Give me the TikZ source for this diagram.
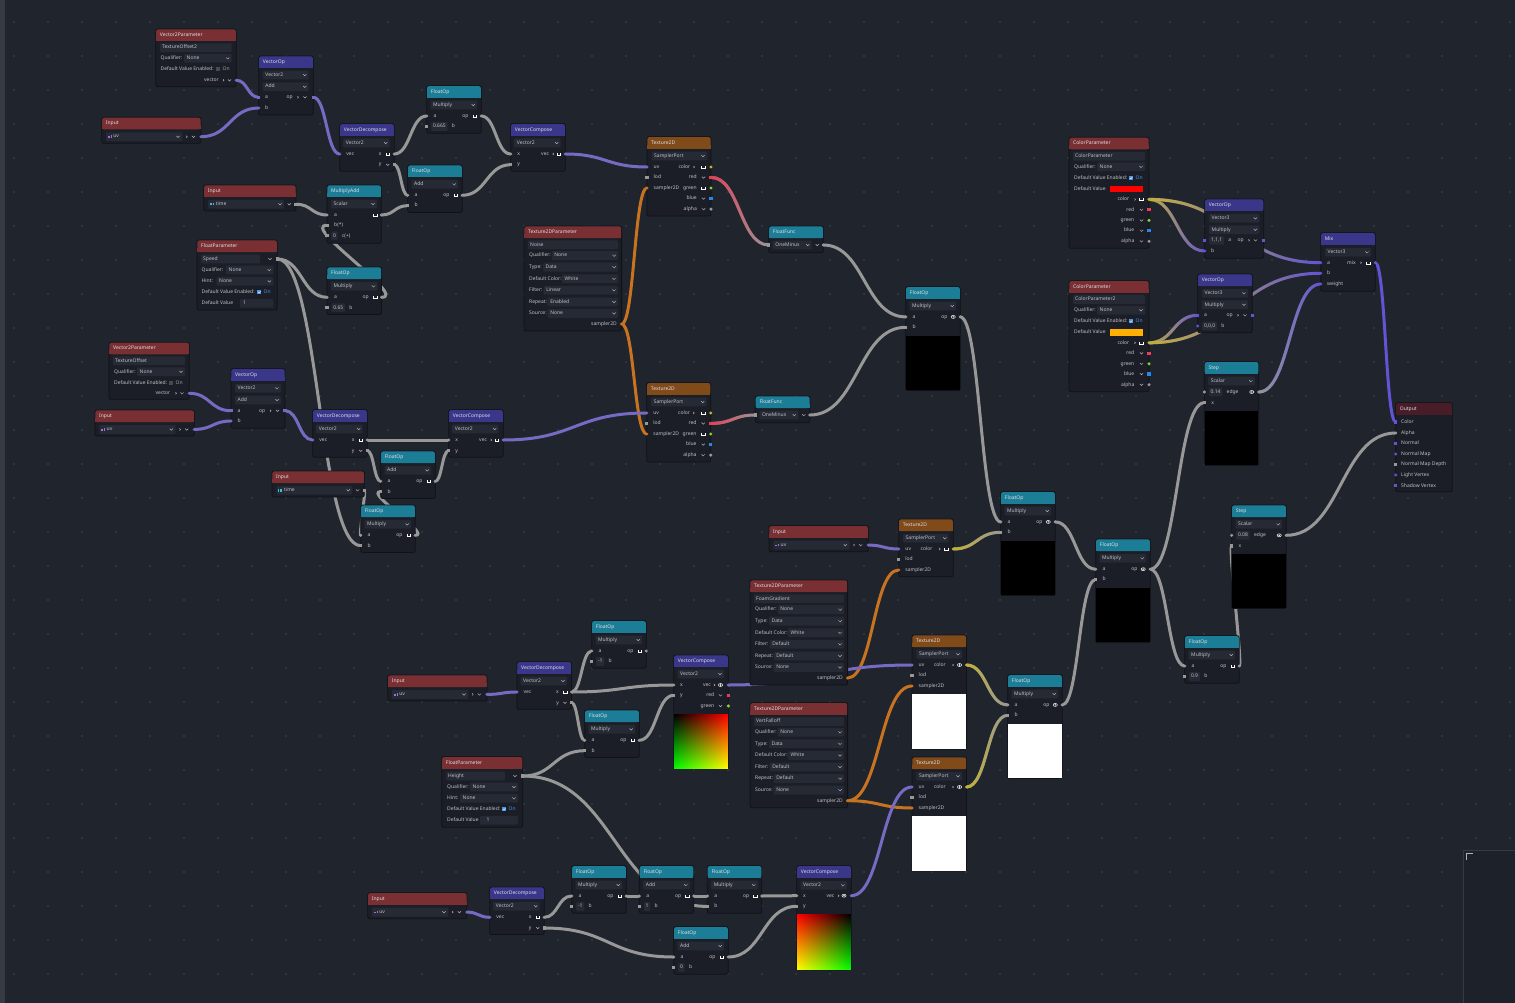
\documentclass[tikz,border=0pt]{standalone}
\usepackage{fontspec}
\setmainfont{Noto Sans}
\usetikzlibrary{calc,fadings}
\definecolor{bgc}{RGB}{32,36,45}
\definecolor{edgec}{RGB}{54,58,68}
\definecolor{dotc}{RGB}{47,52,63}
\definecolor{minic}{RGB}{29,33,41}
\definecolor{bodyc}{RGB}{27,30,38}
\definecolor{bordc}{RGB}{16,18,23}
\definecolor{fieldc}{RGB}{38,42,52}
\definecolor{hred}{RGB}{122,47,50}
\definecolor{hteal}{RGB}{28,126,150}
\definecolor{hpur}{RGB}{58,55,138}
\definecolor{hbrown}{RGB}{128,74,25}
\definecolor{hout}{RGB}{72,29,40}
\definecolor{htxt}{RGB}{222,222,230}
\definecolor{txtc}{RGB}{192,194,200}
\definecolor{iconc}{RGB}{175,178,186}
\definecolor{onc}{RGB}{78,148,228}
\definecolor{offbox}{RGB}{70,74,84}
\definecolor{offtxt}{RGB}{160,162,170}
\definecolor{icpur}{RGB}{160,110,225}
\definecolor{iccyan}{RGB}{60,190,220}
\definecolor{wgray}{RGB}{152,152,152}
\definecolor{wvec2}{RGB}{118,106,194}
\definecolor{wvec3}{RGB}{98,84,212}
\definecolor{worange}{RGB}{200,115,32}
\definecolor{wyellow}{RGB}{196,178,52}
\definecolor{wred}{RGB}{232,62,88}
\definecolor{wgreen}{RGB}{140,210,40}
\definecolor{wblue}{RGB}{40,135,235}
\definecolor{swred}{RGB}{255,0,0}
\definecolor{sworange}{RGB}{255,176,0}
\definecolor{pvred}{RGB}{255,0,0}
\definecolor{pvgreen}{RGB}{0,255,0}
\definecolor{pvyellow}{RGB}{255,255,0}
\pgfdeclarelayer{bglayer}
\pgfdeclarelayer{wirelayer}
\pgfsetlayers{bglayer,wirelayer,main}
\tikzfading[name=fadeR, left color=transparent!0, right color=transparent!100]
\tikzfading[name=fadeDown, top color=transparent!100, bottom color=transparent!0]
\newcounter{tn}
\tikzset{
  gbody/.style={draw=bordc, fill=bodyc, line width=0.8pt, rounded corners=2pt, inner sep=0pt, outer sep=0pt},
  ttxt/.style={text=htxt, inner sep=0pt, font=\fontsize{5}{6}\selectfont, text height=3.6pt, text depth=1pt},
  btxt/.style={text=txtc, inner sep=0pt, font=\fontsize{5}{6}\selectfont, text height=3.6pt, text depth=1pt},
  valst/.style={btxt, fill=fieldc, inner xsep=1.8pt, minimum height=8.8pt, rounded corners=1pt},
  wirest/.style={line width=3pt, line cap=round},
  chvst/.style={draw=iconc, line width=0.5pt},
  cupst/.style={draw=white, line width=0.6pt},
}
% text helpers
\newcommand\tL[4][btxt]{\stepcounter{tn}\node[#1,anchor=west] (t\arabic{tn}) at (#2,#3) {#4};}
\newcommand\tR[3]{\stepcounter{tn}\node[btxt,anchor=east] (t\arabic{tn}) at (#1,#2) {#3};}
\newcommand\valb[4]{\stepcounter{tn}\node[valst,anchor=west] (t\arabic{tn}) at (#1,#2) {#3};\node[btxt,anchor=west] (t\arabic{tn}l) at ($(t\arabic{tn}.east)+(4,0)$) {#4};}
% icons
\newcommand\chv[2]{\draw[chvst] (#1-1.6,#2-0.8) -- (#1,#2+0.8) -- (#1+1.6,#2-0.8);}
\newcommand\gtic[2]{\draw[chvst] (#1-0.5,#2-1) -- (#1+0.5,#2) -- (#1-0.5,#2+1);}
\newcommand\cupic[2]{\draw[cupst] (#1-1.8,#2-1.2) -- (#1-1.8,#2+1.1) -- (#1+1.8,#2+1.1) -- (#1+1.8,#2-1.2);}
\newcommand\eyeic[2]{\draw[white,line width=0.5pt] (#1,#2) ellipse (2.1pt and 1.5pt);\fill[white] (#1,#2) circle (0.8pt);}
\newcommand\cbxon[2]{\fill[onc] (#1-2,#2-2) rectangle (#1+2,#2+2);\draw[white,line width=0.4pt] (#1-1.2,#2) -- (#1-0.3,#2+0.9) -- (#1+1.3,#2-1);}
\newcommand\cbxoff[2]{\fill[offbox] (#1-2,#2-2) rectangle (#1+2,#2+2);}
\newcommand\vic[2]{\fill[icpur] (#1-1.6,#2-0.2) rectangle (#1+0.4,#2+1.3);\fill[icpur] (#1+0.9,#2-1.3) rectangle (#1+1.6,#2+1.3);}
\newcommand\sic[2]{\fill[iccyan] (#1-1.6,#2-1.3) rectangle (#1-1,#2+1.3);\fill[iccyan] (#1-0.3,#2-1.3) rectangle (#1+0.3,#2+1.3);\fill[iccyan] (#1+1,#2-1.3) rectangle (#1+1.6,#2+1.3);}
\newcommand\fb[3]{\fill[fieldc, rounded corners=1pt] (#1,#2-4.4) rectangle (#3,#2+4.4);}
\newcommand\dd[4]{\fb{#1}{#2}{#3}\tL{#1+2.5}{#2}{#4}\chv{#3-4}{#2}}
% ports
\newcommand\pc[4]{\coordinate (#1) at (#2,#3);\fill[#4] (#1) circle (1.7pt);}
\newcommand\ps[4]{\coordinate (#1) at (#2,#3);\fill[#4] (#2-1.6,#3-1.6) rectangle (#2+1.6,#3+1.6);}
% graph node frame
\newcommand\gn[7]{%
  \node[gbody, minimum width=#4pt, minimum height=#5pt, anchor=north west] (#1) at (#2,#3) {};
  \fill[#6, rounded corners=2pt] (#2+0.4,#3+0.4) rectangle (#2+#4-0.4,#3+12);
  \fill[#6] (#2+0.4,#3+8) rectangle (#2+#4-0.4,#3+12);
  \tL[ttxt]{#2+4}{#3+6.3}{#7}}
% wires
\newcommand\wpth[2]{let \p1=(#1), \p2=(#2), \n1={0.5*abs(\x2-\x1)} in (\p1) .. controls (\x1+\n1,\y1) and (\x2-\n1,\y2) .. (\p2)}
\newcommand\wir[3][wgray]{\begin{pgfonlayer}{wirelayer}\draw[wirest,#1] \wpth{#2}{#3};\end{pgfonlayer}}
\newcommand\gwir[4]{\begin{pgfonlayer}{wirelayer}\draw[wirest,#4] \wpth{#1}{#2};\draw[wirest,#3,path fading=fadeR] \wpth{#1}{#2};\end{pgfonlayer}}
% bilinear preview: x1 y1 x2 y2 TL TR BL BR
\newcommand\bilin[8]{\shade[left color=#5, right color=#6] (#1,#2) rectangle (#3,#4);\shade[left color=#7, right color=#8, path fading=fadeDown] (#1,#2) rectangle (#3,#4);}
% node kinds
\newcommand\inuv[3]{%
  \gn{#1}{#2}{#3}{99.3}{26}{hred}{Input}
  \fb{#2+4.3}{#3+19.4}{#2+80.6}\vic{#2+8}{#3+19.4}\tL{#2+11.5}{#3+19.4}{uv}\chv{#2+76.3}{#3+19.4}
  \gtic{#2+85}{#3+19.4}\chv{#2+91.7}{#3+19.4}
  \pc{#1-o}{#2+99.3}{#3+19.4}{wvec2}}
\newcommand\intime[3]{%
  \gn{#1}{#2}{#3}{92.3}{26}{hred}{Input}
  \fb{#2+4.5}{#3+19.2}{#2+80.3}\sic{#2+8}{#3+19.2}\tL{#2+12}{#3+19.2}{time}\chv{#2+76.3}{#3+19.2}
  \chv{#2+85.6}{#3+19.2}
  \ps{#1-o}{#2+92.3}{#3+19.2}{wgray}}
\newcommand\vdec[3]{%
  \gn{#1}{#2}{#3}{54.5}{47.5}{hpur}{VectorDecompose}
  \dd{#2+3.5}{#3+19.2}{#2+50}{Vector2}
  \tL{#2+6.5}{#3+30.3}{vec}\tR{#2+42}{#3+30.3}{x}\cupic{#2+48}{#3+30.3}
  \tR{#2+42}{#3+41}{y}\chv{#2+48}{#3+41}
  \pc{#1-v}{#2}{#3+30.3}{wvec2}\pc{#1-x}{#2+54.5}{#3+30.3}{wgray}\ps{#1-y}{#2+54.5}{#3+41}{wgray}}
\newcommand\vcomp[3]{%
  \gn{#1}{#2}{#3}{54.5}{47.5}{hpur}{VectorCompose}
  \dd{#2+3.5}{#3+19.2}{#2+50}{Vector2}
  \tL{#2+6.5}{#3+30.3}{x}\tR{#2+38.5}{#3+30.3}{vec}\gtic{#2+42.5}{#3+30.3}\cupic{#2+48}{#3+30.3}
  \tL{#2+6.5}{#3+41}{y}
  \pc{#1-x}{#2}{#3+30.3}{wgray}\ps{#1-y}{#2}{#3+41}{wgray}\pc{#1-o}{#2+54.5}{#3+30.3}{wvec2}}
\newcommand\fop[5]{%
  \gn{#1}{#2}{#3}{54.5}{47.5}{hteal}{FloatOp}
  \dd{#2+3.8}{#3+19.3}{#2+50.5}{#4}
  \tL{#2+6.8}{#3+30.3}{a}\tR{#2+42}{#3+30.3}{op}\cupic{#2+48}{#3+30.3}
  \if\relax\detokenize{#5}\relax\tL{#2+6.8}{#3+40.7}{b}\else\valb{#2+4.3}{#3+40.7}{#5}{b}\fi
  \pc{#1-a}{#2}{#3+30.3}{wgray}\ps{#1-b}{#2}{#3+40.7}{wgray}\pc{#1-o}{#2+54.5}{#3+30.3}{wgray}}
\newcommand\fopp[4]{%
  \gn{#1}{#2}{#3}{54.5}{103.8}{hteal}{FloatOp}
  \dd{#2+3.8}{#3+19.3}{#2+50.5}{Multiply}
  \tL{#2+6.8}{#3+30.2}{a}\tR{#2+42}{#3+30.2}{op}\eyeic{#2+47.5}{#3+30.2}
  \tL{#2+6.8}{#3+40.6}{b}
  \fill[#4] (#2+0.4,#3+49.2) rectangle (#2+54.1,#3+103.4);
  \pc{#1-a}{#2}{#3+30.2}{wgray}\ps{#1-b}{#2}{#3+40.6}{wgray}\pc{#1-o}{#2+54.5}{#3+30.2}{wgray}}
\newcommand\stepn[4]{%
  \gn{#1}{#2}{#3}{54.5}{103.5}{hteal}{Step}
  \dd{#2+3.8}{#3+19.3}{#2+50.5}{Scalar}
  \valb{#2+4.3}{#3+30.3}{#4}{edge}\eyeic{#2+47.5}{#3+30.3}
  \tL{#2+6.8}{#3+41}{x}
  \fill[black] (#2+0.4,#3+49.3) rectangle (#2+54.1,#3+103.1);
  \pc{#1-e}{#2}{#3+30.3}{wgray}\ps{#1-x}{#2}{#3+41}{wgray}\pc{#1-o}{#2+54.5}{#3+30.3}{wgray}}
\newcommand\texf[3]{%
  \gn{#1}{#2}{#3}{64}{79.3}{hbrown}{Texture2D}
  \dd{#2+4.5}{#3+19.3}{#2+60}{SamplerPort}
  \tL{#2+6.5}{#3+30.3}{uv}\tR{#2+43.5}{#3+30.3}{color}\gtic{#2+47}{#3+30.3}\cupic{#2+56.5}{#3+30.3}
  \tL{#2+6.5}{#3+40.7}{lod}\tR{#2+50}{#3+40.7}{red}\chv{#2+56.5}{#3+40.7}
  \tL{#2+6.5}{#3+51.3}{sampler2D}\tR{#2+50}{#3+51.3}{green}\cupic{#2+56.5}{#3+51.3}
  \tR{#2+50}{#3+61.8}{blue}\chv{#2+56.5}{#3+61.8}
  \tR{#2+50}{#3+72.4}{alpha}\chv{#2+56.5}{#3+72.4}
  \pc{#1-uv}{#2}{#3+30.3}{wvec2}\ps{#1-lod}{#2}{#3+40.7}{wgray}\pc{#1-s}{#2}{#3+51.3}{worange}
  \pc{#1-c}{#2+64}{#3+30.3}{wyellow}\ps{#1-r}{#2+64}{#3+40.7}{wred}\pc{#1-g}{#2+64}{#3+51.3}{wgreen}\ps{#1-b}{#2+64}{#3+61.8}{wblue}\pc{#1-a}{#2+64}{#3+72.4}{wgray}}
\newcommand\texs[4]{%
  \gn{#1}{#2}{#3}{54.5}{#4}{hbrown}{Texture2D}
  \dd{#2+4.3}{#3+19.2}{#2+50}{SamplerPort}
  \tL{#2+6.5}{#3+30}{uv}\tR{#2+34}{#3+30}{color}\gtic{#2+41}{#3+30}
  \tL{#2+6.5}{#3+40.3}{lod}
  \tL{#2+6.5}{#3+51}{sampler2D}
  \pc{#1-uv}{#2}{#3+30}{wvec2}\ps{#1-lod}{#2}{#3+40.3}{wgray}\pc{#1-s}{#2}{#3+51}{worange}
  \pc{#1-c}{#2+54.5}{#3+30}{wyellow}
  \ifdim#4pt>60pt \fill[white] (#2+0.4,#3+59.3) rectangle (#2+54.1,#3+#4-0.4);\eyeic{#2+47.5}{#3+30}\else\cupic{#2+47.5}{#3+30}\fi}
\newcommand\texp[6]{%
  \gn{#1}{#2}{#3}{97.6}{105}{hred}{Texture2DParameter}
  \fb{#2+4}{#3+18.8}{#2+94}\tL{#2+6}{#3+18.8}{#4}
  \tL{#2+5}{#3+29.6}{Qualifier:}\dd{#2+27.7}{#3+29.6}{#2+94}{None}
  \tL{#2+5}{#3+41.1}{Type:}\dd{#2+19}{#3+41.1}{#2+94}{Data}
  \tL{#2+5}{#3+52.8}{Default Color:}\dd{#2+38}{#3+52.8}{#2+94}{White}
  \tL{#2+5}{#3+64.3}{Filter:}\dd{#2+19.6}{#3+64.3}{#2+94}{#5}
  \tL{#2+5}{#3+75.9}{Repeat:}\dd{#2+23.6}{#3+75.9}{#2+94}{#6}
  \tL{#2+5}{#3+87.4}{Source:}\dd{#2+23.6}{#3+87.4}{#2+94}{None}
  \tR{#2+93}{#3+98}{sampler2D}
  \pc{#1-o}{#2+97.6}{#3+98}{worange}}
\newcommand\colp[5]{%
  \gn{#1}{#2}{#3}{80}{111}{hred}{ColorParameter}
  \fb{#2+4}{#3+18.9}{#2+76}\tL{#2+6}{#3+18.9}{#4}
  \tL{#2+5}{#3+29.5}{Qualifier:}\dd{#2+28}{#3+29.5}{#2+76}{None}
  \tL{#2+5}{#3+40.7}{Default Value Enabled:}\cbxon{#2+62}{#3+40.7}\tL[btxt,text=onc]{#2+66.5}{#3+40.7}{On}
  \tL{#2+5}{#3+51.7}{Default Value}\fill[#5] (#2+41,#3+48.6) rectangle (#2+73.7,#3+54.8);
  \tR{#2+60.5}{#3+62.1}{color}\gtic{#2+66}{#3+62.1}\cupic{#2+72.5}{#3+62.1}
  \tR{#2+65.5}{#3+72.5}{red}\chv{#2+72.5}{#3+72.5}
  \tR{#2+65.5}{#3+83.1}{green}\chv{#2+72.5}{#3+83.1}
  \tR{#2+65.5}{#3+93.3}{blue}\chv{#2+72.5}{#3+93.3}
  \tR{#2+65.5}{#3+104}{alpha}\chv{#2+72.5}{#3+104}
  \pc{#1-c}{#2+80}{#3+62.1}{wyellow}\ps{#1-r}{#2+80}{#3+72.5}{wred}\pc{#1-g}{#2+80}{#3+83.1}{wgreen}\ps{#1-b}{#2+80}{#3+93.3}{wblue}\pc{#1-a}{#2+80}{#3+104}{wgray}}
\newcommand\ffn[3]{%
  \gn{#1}{#2}{#3}{54.6}{26.7}{hteal}{FloatFunc}
  \dd{#2+4}{#3+19}{#2+43}{OneMinus}\chv{#2+48.5}{#3+19}
  \ps{#1-i}{#2}{#3+19}{wgray}\pc{#1-o}{#2+54.6}{#3+19}{wgray}}

\begin{document}
\begin{tikzpicture}[x=1pt,y=-1pt]
\useasboundingbox (0,0) rectangle (1515,1003);
\begin{pgfonlayer}{bglayer}
\fill[bgc] (0,0) rectangle (1515,1003);
\fill[edgec] (0,0) rectangle (5,1003);
\foreach \i in {0,...,44}{\foreach \j in {0,...,29}{\fill[dotc] (12.7+34*\i,21+34*\j) rectangle ++(2,2);}}
\fill[minic] (1463,850) rectangle (1515,1003);
\draw[edgec,line width=0.6pt] (1463,1003) -- (1463,850) -- (1515,850);
\draw[iconc,line width=1pt] (1466,860) -- (1466,853) -- (1473,853);
\end{pgfonlayer}

% ---------- top-left cluster ----------
\gn{vtpA}{155.7}{29}{80.6}{57.7}{hred}{Vector2Parameter}
\fb{160}{47.7}{231.7}\tL{162}{47.7}{TextureOffset2}
\tL{160.5}{58.3}{Qualifier:}\dd{184}{58.3}{231.7}{None}
\tL{160.5}{69.3}{Default Value Enabled:}\cbxoff{218.3}{69.3}\tL[btxt,text=offtxt]{222.5}{69.3}{On}
\tR{219}{80.3}{vector}\gtic{223.5}{80.3}\chv{229.5}{80.3}
\pc{vtpA-o}{236.3}{80.3}{wvec2}

\inuv{inA}{101.7}{117.3}

\gn{vopA}{258.7}{56}{54.6}{59}{hpur}{VectorOp}
\dd{262.7}{75}{308.7}{Vector2}
\dd{262.7}{86.7}{308.7}{Add}
\tL{265}{97.3}{a}\tR{293}{97.3}{op}\gtic{298}{97.3}\chv{305}{97.3}
\tL{265}{108}{b}
\ps{vopA-a}{258.7}{97.3}{wvec2}\pc{vopA-b}{258.7}{108}{wvec2}\ps{vopA-o}{313.3}{97.3}{wvec2}

\vdec{vdecA}{339.7}{123.7}
\vcomp{vcompA}{510.7}{123.7}
\fop{fopA}{426.7}{85.7}{Multiply}{0.665}
\fop{faddA}{407.7}{165}{Add}{}
\intime{timeA}{203.7}{185}

\gn{maddA}{327}{185}{54.3}{58.3}{hteal}{MultiplyAdd}
\dd{331}{204}{377}{Scalar}
\tL{334}{215}{a}\cupic{375}{215}
\tL{334}{225.3}{b(*)}
\valb{331}{235.7}{0}{c(+)}
\pc{maddA-a}{327}{215}{wgray}\ps{maddA-b}{327}{225.3}{wgray}\ps{maddA-c}{327}{235.7}{wgray}\pc{maddA-o}{381.3}{215}{wgray}

\gn{speedP}{197}{240}{80.3}{70}{hred}{FloatParameter}
\fb{201}{259}{260}\tL{203}{259}{Speed}\chv{270}{259}
\tL{201.5}{270}{Qualifier:}\dd{226}{270}{273.3}{None}
\tL{201.5}{281.3}{Hint:}\dd{216.5}{281.3}{273.3}{None}
\tL{201.5}{292.3}{Default Value Enabled:}\cbxon{259.3}{292.3}\tL[btxt,text=onc]{263.5}{292.3}{On}
\tL{201.5}{303.3}{Default Value}\fb{240}{303.3}{273.3}\tL{243}{303.3}{1}
\ps{speedP-o}{277.3}{259}{wgray}

\fop{fmulB}{327}{267}{Multiply}{0.65}

% ---------- textures ----------
\texf{texA}{647}{136.7}
\texf{texB}{646.7}{382.7}
\texp{noiseP}{524}{226}{Noise}{Linear}{Enabled}
\ffn{ffA}{768.7}{226}
\ffn{ffB}{755.3}{396}
\fopp{fopC}{905.7}{286.7}{black}
\fopp{fopD}{1000.7}{491.7}{black}
\fopp{fopW}{1007.7}{674.7}{white}
\fopp{fopE}{1095.7}{539}{black}
\inuv{inE}{769}{525.7}
\texs{texC}{898.7}{519}{57.7}
\texp{foamP}{750}{580}{FoamGradient}{Default}{Default}
\texp{vertP}{750}{702.7}{VertFalloff}{Default}{Default}
\texs{texD}{912}{635}{114.3}
\texs{texE}{912}{757}{114}

% ---------- right side ----------
\stepn{stepA}{1204.3}{361.7}{0.14}
\stepn{stepB}{1231.7}{505}{0.08}
\fop{fopN}{1184.7}{635.7}{Multiply}{0.9}
\colp{cpA}{1069}{137.3}{ColorParameter}{swred}
\colp{cpB}{1069}{280.7}{ColorParameter2}{sworange}

\gn{vopB}{1204.7}{199}{59}{59.3}{hpur}{VectorOp}
\dd{1209}{218.3}{1259.3}{Vector3}
\dd{1209}{229.7}{1259.3}{Multiply}
\valb{1209}{240.3}{1,1,1}{a}\tR{1244}{240.3}{op}\gtic{1249}{240.3}\chv{1255.5}{240.3}
\tL{1211}{251}{b}
\ps{vopB-a}{1204.7}{240.3}{wvec3}\pc{vopB-b}{1204.7}{251}{wvec3}\ps{vopB-o}{1263.7}{240.3}{wvec3}

\gn{vopC}{1197.7}{274}{54.6}{58.7}{hpur}{VectorOp}
\dd{1202}{293.3}{1248}{Vector3}
\dd{1202}{304.7}{1248}{Multiply}
\tL{1204}{315.3}{a}\tR{1233}{315.3}{op}\gtic{1238}{315.3}\chv{1245}{315.3}
\valb{1202}{326}{0,0,0}{b}
\ps{vopC-a}{1197.7}{315.3}{wvec3}\pc{vopC-b}{1197.7}{326}{wvec3}\ps{vopC-o}{1252.3}{315.3}{wvec3}

\gn{mixA}{1320.7}{232.7}{54.6}{58.6}{hpur}{Mix}
\dd{1325}{252.3}{1371}{Vector3}
\tL{1327}{262.7}{a}\tR{1356}{262.7}{mix}\gtic{1361}{262.7}\cupic{1368}{262.7}
\tL{1327}{273.3}{b}
\tL{1327}{284}{weight}
\pc{mixA-a}{1320.7}{262.7}{wvec3}\pc{mixA-b}{1320.7}{273.3}{wvec3}\pc{mixA-w}{1320.7}{284}{wvec3}\pc{mixA-o}{1375.3}{262.7}{wvec3}

\gn{outA}{1395.7}{402.7}{56.6}{89}{hout}{Output}
\tL{1401}{422}{Color}\tL{1401}{433}{Alpha}\tL{1401}{443.3}{Normal}\tL{1401}{454}{Normal Map}
\tL{1401}{464.3}{Normal Map Depth}\tL{1401}{475}{Light Vertex}\tL{1401}{485.7}{Shadow Vertex}
\ps{outA-col}{1395.7}{422}{wvec3}\pc{outA-al}{1395.7}{433}{wgray}\ps{outA-n}{1395.7}{443.3}{wvec3}\pc{outA-nm}{1395.7}{454}{wvec3}
\ps{outA-nd}{1395.7}{464.3}{wgray}\pc{outA-lv}{1395.7}{475}{wvec3}\ps{outA-sv}{1395.7}{485.7}{wvec3}

% ---------- mid-left cluster ----------
\gn{vtpB}{109}{342.3}{80.3}{57}{hred}{Vector2Parameter}
\fb{113}{360.7}{185}\tL{115}{360.7}{TextureOffset}
\tL{114}{371.7}{Qualifier:}\dd{137}{371.7}{185}{None}
\tL{114}{382.7}{Default Value Enabled:}\cbxoff{171.3}{382.7}\tL[btxt,text=offtxt]{175.5}{382.7}{On}
\tR{170.5}{393.3}{vector}\gtic{176}{393.3}\chv{182}{393.3}
\pc{vtpB-o}{189.3}{393.3}{wvec2}

\inuv{inB}{95}{410}

\gn{vopD}{231}{368.7}{54}{59.6}{hpur}{VectorOp}
\dd{235}{388.3}{281}{Vector2}
\dd{235}{400}{281}{Add}
\tL{237.5}{410.7}{a}\tR{265.5}{410.7}{op}\gtic{270.5}{410.7}\chv{277.5}{410.7}
\tL{237.5}{421}{b}
\ps{vopD-a}{231}{410.7}{wvec2}\pc{vopD-b}{231}{421}{wvec2}\ps{vopD-o}{285}{410.7}{wvec2}

\vdec{vdecB}{312.7}{409.7}
\vcomp{vcompB}{448.7}{409.7}
\fop{faddB}{380.7}{451}{Add}{}
\intime{timeB}{272}{471}
\fop{fmulC}{360.7}{505}{Multiply}{}

% ---------- bottom-middle cluster ----------
\inuv{inC}{387.7}{675}
\vdec{vdecC}{517}{661.7}
\fop{fm1}{591.7}{620.7}{Multiply}{-1}
\fop{fmulD}{584.7}{710}{Multiply}{}
\gn{vcompC}{673.7}{655}{54.6}{114}{hpur}{VectorCompose}
\dd{677.5}{674}{724}{Vector2}
\tL{680}{685}{x}\tR{711}{685}{vec}\gtic{714.5}{685}\eyeic{720.5}{685}
\tL{680}{695.3}{y}\tR{714.5}{695.3}{red}\chv{720.5}{695.3}
\tR{714.5}{706}{green}\chv{720.5}{706}
\bilin{674.1}{714.3}{727.9}{768.7}{black}{pvred}{pvgreen}{pvyellow}
\pc{vcompC-x}{673.7}{685}{wgray}\ps{vcompC-y}{673.7}{695.3}{wgray}\pc{vcompC-o}{728.3}{685}{wvec2}\ps{vcompC-r}{728.3}{695.3}{wred}\pc{vcompC-g}{728.3}{706}{wgreen}

\gn{heightP}{441.7}{756.7}{81}{70.6}{hred}{FloatParameter}
\fb{446}{776}{505}\tL{448}{776}{Height}\chv{515}{776}
\tL{447}{787}{Qualifier:}\dd{470}{787}{518}{None}
\tL{447}{798.3}{Hint:}\dd{460}{798.3}{518}{None}
\tL{447}{809.3}{Default Value Enabled:}\cbxon{504.3}{809.3}\tL[btxt,text=onc]{508.5}{809.3}{On}
\tL{447}{820.3}{Default Value}\fb{480}{820.3}{518}\tL{486.5}{820.3}{1}
\ps{heightP-o}{522.7}{776}{wgray}

% ---------- bottom cluster ----------
\inuv{inD}{367.7}{892.7}
\vdec{vdecD}{489.7}{887}
\fop{fm2}{571.7}{865.7}{Multiply}{-1}
\fop{faddC}{639.3}{865.7}{Add}{1}
\fop{fmulE}{707.3}{865.7}{Multiply}{}
\fop{faddD}{673.7}{926.7}{Add}{0}
\gn{vcompD}{796.7}{865.7}{54.6}{104.3}{hpur}{VectorCompose}
\dd{800.5}{885.3}{847}{Vector2}
\tL{803}{895.7}{x}\tR{834.5}{895.7}{vec}\gtic{838.5}{895.7}\eyeic{844}{895.7}
\tL{803}{906.3}{y}
\bilin{797.1}{914.7}{850.9}{969.6}{pvred}{black}{pvyellow}{pvgreen}
\pc{vcompD-x}{796.7}{895.7}{wgray}\ps{vcompD-y}{796.7}{906.3}{wgray}\pc{vcompD-o}{851.3}{895.7}{wvec2}

% ---------- wires ----------
\wir[wvec2]{vtpA-o}{vopA-a}
\wir[wvec2]{inA-o}{vopA-b}
\wir[wvec2]{vopA-o}{vdecA-v}
\wir{vdecA-x}{fopA-a}
\wir{vdecA-y}{faddA-a}
\wir{fopA-o}{vcompA-x}
\wir{faddA-o}{vcompA-y}
\wir{timeA-o}{maddA-a}
\wir{maddA-o}{faddA-b}
\wir{fmulB-o}{maddA-b}
\wir{speedP-o}{fmulB-a}
\wir{speedP-o}{fmulC-b}
\wir[wvec2]{vcompA-o}{texA-uv}
\wir[worange]{noiseP-o}{texA-s}
\wir[worange]{noiseP-o}{texB-s}
\gwir{texA-r}{ffA-i}{wred}{wgray}
\gwir{texB-r}{ffB-i}{wred}{wgray}
\wir{ffA-o}{fopC-a}
\wir{ffB-o}{fopC-b}
\wir{fopC-o}{fopD-a}
\gwir{texC-c}{fopD-b}{wyellow}{wgray}
\wir[wvec2]{inE-o}{texC-uv}
\wir[worange]{foamP-o}{texC-s}
\wir[wvec2]{vcompC-o}{texD-uv}
\wir[worange]{vertP-o}{texD-s}
\wir[worange]{vertP-o}{texE-s}
\wir[wvec2]{vcompD-o}{texE-uv}
\gwir{texD-c}{fopW-a}{wyellow}{wgray}
\gwir{texE-c}{fopW-b}{wyellow}{wgray}
\wir{fopD-o}{fopE-a}
\wir{fopW-o}{fopE-b}
\wir{fopE-o}{stepA-x}
\wir{fopE-o}{fopN-a}
\wir{fopN-o}{stepB-x}
\gwir{stepA-o}{mixA-w}{wgray}{wvec3}
\wir{stepB-o}{outA-al}
\gwir{cpA-c}{vopB-b}{wyellow}{wvec3}
\gwir{cpA-c}{mixA-a}{wyellow}{wvec3}
\gwir{cpB-c}{vopC-a}{wyellow}{wvec3}
\gwir{cpB-c}{mixA-b}{wyellow}{wvec3}
\wir[wvec3]{mixA-o}{outA-col}
\wir[wvec2]{vtpB-o}{vopD-a}
\wir[wvec2]{inB-o}{vopD-b}
\wir[wvec2]{vopD-o}{vdecB-v}
\wir{vdecB-x}{vcompB-x}
\wir{vdecB-y}{faddB-a}
\wir{faddB-o}{vcompB-y}
\wir{timeB-o}{fmulC-a}
\wir{fmulC-o}{faddB-b}
\wir[wvec2]{vcompB-o}{texB-uv}
\wir[wvec2]{inC-o}{vdecC-v}
\wir{vdecC-x}{fm1-a}
\wir{vdecC-x}{vcompC-x}
\wir{vdecC-y}{fmulD-a}
\wir{fmulD-o}{vcompC-y}
\wir{heightP-o}{fmulD-b}
\wir{heightP-o}{fmulE-b}
\wir[wvec2]{inD-o}{vdecD-v}
\wir{vdecD-x}{fm2-a}
\wir{vdecD-y}{faddD-a}
\wir{fm2-o}{faddC-a}
\wir{faddC-o}{fmulE-a}
\wir{fmulE-o}{vcompD-x}
\wir{faddD-o}{vcompD-y}
\end{tikzpicture}
\end{document}
